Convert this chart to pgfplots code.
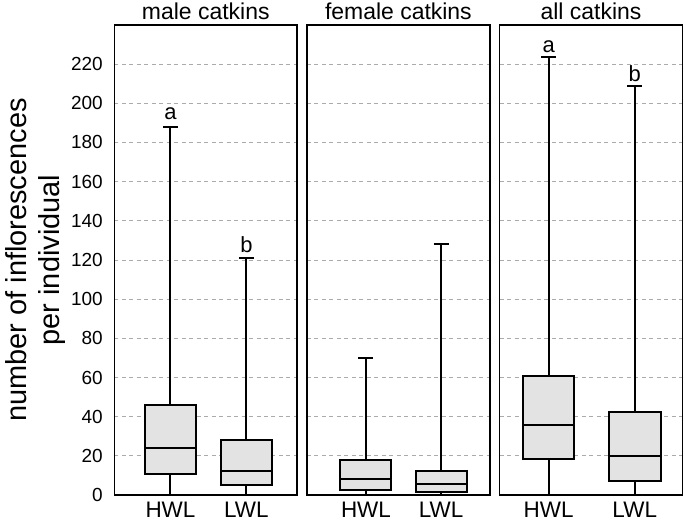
\documentclass[border=0pt]{standalone}
\usepackage{fontspec}
\setmainfont{Liberation Sans}
\usepackage{pgfplots}
\pgfplotsset{compat=1.18}
\usepgfplotslibrary{groupplots,statistics}
\definecolor{boxfill}{HTML}{E3E3E3}
\definecolor{gridgray}{HTML}{ABABAB}
\begin{document}
\begin{tikzpicture}
\begin{groupplot}[
  group style={group size=3 by 1, horizontal sep=9.7pt, y descriptions at=edge left},
  width=183.3pt, height=471pt, scale only axis,
  ymin=0, ymax=240, ytick={0,20,...,220},
  xtick={1,2}, xticklabels={HWL,LWL},
  major tick length=0pt,
  ymajorgrids, grid style={gridgray, dash pattern=on 4pt off 3.5pt, line width=1pt},
  axis line style={line width=1.5pt},
  yticklabel style={font=\fontsize{19}{22}\selectfont, xshift=-8pt},
  xticklabel style={font=\fontsize{22.5}{26}\selectfont, yshift=-3pt},
  /pgf/number format/assume math mode=true,
  title style={font=\fontsize{23}{26}\selectfont, yshift=-4pt},
  boxplot/draw direction=y,
  clip=false,
]
\nextgroupplot[title={male catkins}, xmin=0.26, xmax=2.67,
  ylabel={number of inflorescences\\per individual},
  ylabel style={align=center, font=\fontsize{29}{33}\selectfont, yshift=-1pt},
  boxplot/box extend=0.674, boxplot/whisker extend=0.2]
\addplot[draw=black, fill=boxfill, line width=2pt, boxplot prepared={draw position=1,
  lower whisker=0, lower quartile=10.7, median=24, upper quartile=46, upper whisker=188}] coordinates {};
\addplot[draw=black, fill=boxfill, line width=2pt, boxplot prepared={draw position=2,
  lower whisker=0, lower quartile=5, median=12.4, upper quartile=28, upper whisker=121}] coordinates {};
\node[anchor=base, yshift=7.5pt, font=\fontsize{22}{24}\selectfont] at (axis cs:1,188) {a};
\node[anchor=base, yshift=6pt, font=\fontsize{22}{24}\selectfont] at (axis cs:2,121) {b};

\nextgroupplot[title={female catkins}, xmin=0.214, xmax=2.65,
  boxplot/box extend=0.68, boxplot/whisker extend=0.2]
\addplot[draw=black, fill=boxfill, line width=2pt, boxplot prepared={draw position=1,
  lower whisker=0, lower quartile=2.7, median=8, upper quartile=18, upper whisker=70}] coordinates {};
\addplot[draw=black, fill=boxfill, line width=2pt, boxplot prepared={draw position=2,
  lower whisker=0, lower quartile=1.7, median=5.4, upper quartile=12.3, upper whisker=128}] coordinates {};

\nextgroupplot[title={all catkins}, xmin=0.43, xmax=2.555,
  boxplot/box extend=0.6, boxplot/whisker extend=0.175]
\addplot[draw=black, fill=boxfill, line width=2pt, boxplot prepared={draw position=1,
  lower whisker=0, lower quartile=18.4, median=36, upper quartile=61, upper whisker=223.4}] coordinates {};
\addplot[draw=black, fill=boxfill, line width=2pt, boxplot prepared={draw position=2,
  lower whisker=0, lower quartile=7, median=20, upper quartile=42.5, upper whisker=209}] coordinates {};
\node[anchor=base, yshift=5pt, font=\fontsize{22}{24}\selectfont] at (axis cs:1,223.4) {a};
\node[anchor=base, yshift=4.5pt, font=\fontsize{22}{24}\selectfont] at (axis cs:2,209) {b};
\end{groupplot}
\pgfresetboundingbox
\path ([xshift=-114.5pt,yshift=-27pt]group c1r1.south west) rectangle ([xshift=2.5pt,yshift=25pt]group c3r1.north east);
\end{tikzpicture}
\end{document}
